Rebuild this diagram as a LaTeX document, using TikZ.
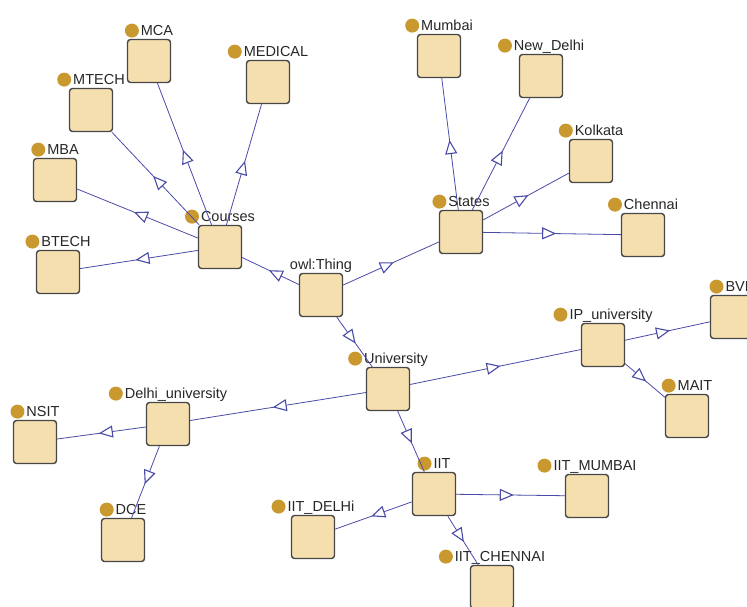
\documentclass[tikz,border=0pt]{standalone}
\usepackage{fontspec}
\setmainfont{Liberation Sans}
\usepackage{xcolor}
\usepackage{tikz}
\usetikzlibrary{arrows.meta, positioning, decorations.markings}

\definecolor{boxfill}{HTML}{F6DFAE}
\definecolor{boxline}{HTML}{474747}
\definecolor{linkblue}{HTML}{4A4AA8}
\definecolor{dotc}{HTML}{C9992F}

\newcommand{\indot}{\tikz[baseline=-5pt]\fill[dotc] (0,0) circle (7pt);\hspace{2pt}}

\begin{document}
\begin{tikzpicture}[
    x=1pt, y=-1pt,
    cls/.style={rectangle, draw=boxline, fill=boxfill, line width=1.4pt, rounded corners=3pt, minimum size=43pt, inner sep=0pt, label distance=5pt},
    lbl/.style={font=\fontsize{14.5}{17}\selectfont, text=black!85, inner sep=0pt, text height=11pt, text depth=3pt},
    link/.style={color=linkblue, line width=0.8pt, postaction={decorate},
      decoration={markings, mark=at position 0.53 with {\arrow{Triangle[fill=white, length=14pt, width=12pt, line width=1.1pt]}}}}
  ]
    \useasboundingbox (0,0) rectangle (747,606);
    \clip (0,0) rectangle (747,606);

    \node[cls, label={[lbl]above:owl:Thing}] (owl) at (321,295) {};

    \node[cls, label={[lbl]above:\indot Courses}] (courses) at (220,247) {};
    \node[cls, label={[lbl]above:\indot BTECH}] (btech) at (58,272) {};
    \node[cls, label={[lbl]above:\indot MBA}] (mba) at (55,180) {};
    \node[cls, label={[lbl]above:\indot MTECH}] (mtech) at (91,110) {};
    \node[cls, label={[lbl]above:\indot MCA}] (mca) at (149,61) {};
    \node[cls, label={[lbl]above:\indot MEDICAL}] (medical) at (268,82) {};

    \node[cls, label={[lbl]above:\indot States}] (states) at (461,232) {};
    \node[cls, label={[lbl]above:\indot Mumbai}] (mumbai) at (439,56) {};
    \node[cls, label={[lbl]above:\indot New\_Delhi}] (newdelhi) at (541,76) {};
    \node[cls, label={[lbl]above:\indot Kolkata}] (kolkata) at (591,161) {};
    \node[cls, label={[lbl]above:\indot Chennai}] (chennai) at (643,235) {};

    \node[cls, label={[lbl]above:\indot University}] (univ) at (388,389) {};
    \node[cls, label={[lbl]above:\indot Delhi\_university}] (delhiu) at (168,424) {};
    \node[cls, label={[lbl]above:\indot NSIT}] (nsit) at (35,442) {};
    \node[cls, label={[lbl]above:\indot DCE}] (dce) at (123,540) {};
    \node[cls, label={[lbl]above:\indot IP\_university}] (ipu) at (603,345) {};
    \node[cls, label={[lbl]above:\indot BVP}] (bvp) at (732,317) {};
    \node[cls, label={[lbl]above:\indot MAIT}] (mait) at (687,416) {};
    \node[cls, label={[lbl]above:\indot IIT}] (iit) at (434,494) {};
    \node[cls, label={[lbl]above:\indot IIT\_DELHi}] (iitdelhi) at (313,537) {};
    \node[cls, label={[lbl]above:\indot IIT\_MUMBAI}] (iitmumbai) at (587,496) {};
    \node[cls, label={[lbl]above:\indot IIT\_CHENNAI}] (iitchennai) at (492,587) {};

    \draw[link] (owl) -- (courses);
    \draw[link] (owl) -- (states);
    \draw[link] (owl) -- (univ);

    \draw[link] (courses) -- (btech);
    \draw[link] (courses) -- (mba);
    \draw[link] (courses) -- (mtech);
    \draw[link] (courses) -- (mca);
    \draw[link] (courses) -- (medical);

    \draw[link] (states) -- (mumbai);
    \draw[link] (states) -- (newdelhi);
    \draw[link] (states) -- (kolkata);
    \draw[link] (states) -- (chennai);

    \draw[link] (univ) -- (delhiu);
    \draw[link] (univ) -- (ipu);
    \draw[link] (univ) -- (iit);
    \draw[link] (delhiu) -- (nsit);
    \draw[link] (delhiu) -- (dce);
    \draw[link] (ipu) -- (bvp);
    \draw[link] (ipu) -- (mait);
    \draw[link] (iit) -- (iitdelhi);
    \draw[link] (iit) -- (iitmumbai);
    \draw[link] (iit) -- (iitchennai);
  \end{tikzpicture}
\end{document}
